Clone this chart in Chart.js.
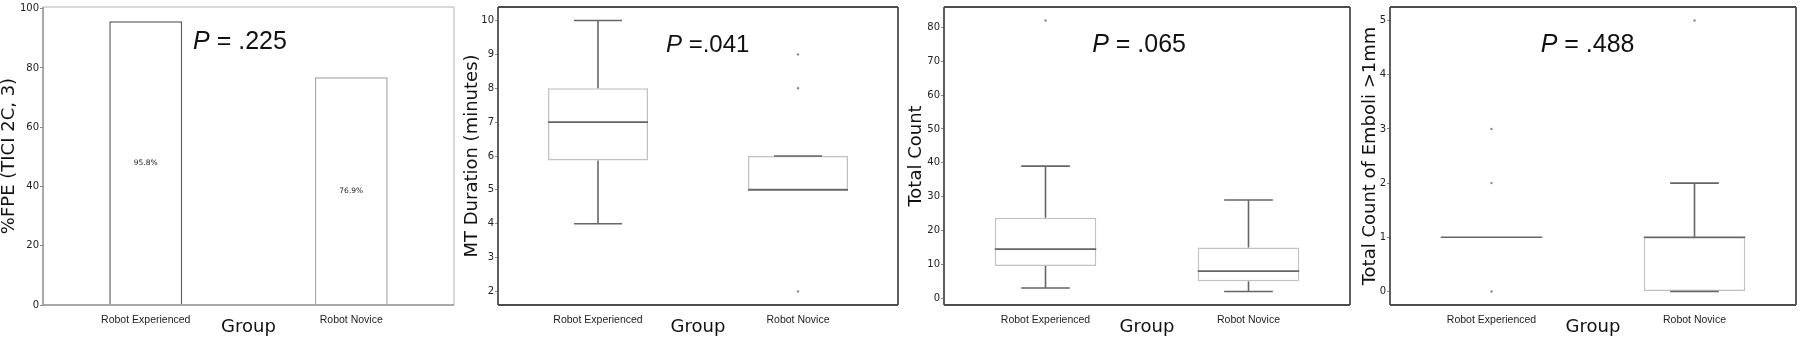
<!DOCTYPE html>
<html>
<head>
<meta charset="utf-8">
<title>Robot Experienced vs Robot Novice</title>
<script src="https://cdn.jsdelivr.net/npm/chart.js@4/dist/chart.umd.min.js"></script>
<style>
	body { margin: 0; background: #fff; }
	#wrap { position: relative; width: 1800px; height: 338px; }
	#wrap canvas { position: absolute; top: 0; }
</style>
</head>
<body>
<div id="wrap">
	<canvas id="chartFpe" width="456" height="338" style="left:0px"></canvas>
	<canvas id="chartMt" width="446" height="338" style="left:456px"></canvas>
	<canvas id="chartCount" width="450" height="338" style="left:904px"></canvas>
	<canvas id="chartEmboli" width="446" height="338" style="left:1354px"></canvas>
</div>
<script>
// data
const groups = ['Robot Experienced', 'Robot Novice'];

// panel 1 - first pass effect
const fpePercent = [95.8, 76.9];
const fpeTicks = [0, 20, 40, 60, 80, 100];

// panel 2 - MT duration (minutes)
const mtLow = [4, 5];
const mtQ1 = [5.87, 5];
const mtMedian = [7, 5];
const mtQ3 = [8, 6];
const mtHigh = [10, 6];
const mtOutliers = [[], [9, 8, 2]];
const mtTicks = [2, 3, 4, 5, 6, 7, 8, 9, 10];

// panel 3 - total count
const countLow = [3, 2];
const countQ1 = [9.5, 5];
const countMedian = [14.5, 8];
const countQ3 = [23.75, 15];
const countHigh = [39, 29];
const countOutliers = [[82], []];
const countTicks = [0, 10, 20, 30, 40, 50, 60, 70, 80];

// panel 4 - emboli > 1mm
const emboliLow = [1, 0];
const emboliQ1 = [1, 0];
const emboliMedian = [1, 1];
const emboliQ3 = [1, 1];
const emboliHigh = [1, 2];
const emboliOutliers = [[3, 2, 0], [5]];
const emboliTicks = [0, 1, 2, 3, 4, 5];

const pValues = [' = .225', ' =.041', ' = .065', ' = .488'];

(function() {
	'use strict';

	var colors = {
		text : '#222',
		tick : '#8a8a8a',
		box : '#c2c2c2',
		whisker : '#666',
		flier : '#8a8a8a',
		frame : '#4d4d4d',
		frameMid : '#8c8c8c',
		frameLight : '#cdcdcd',
		barDark : '#5a5a5a',
		barLight : '#a6a6a6'
	};

	var titleFont = "'DejaVu Sans', sans-serif";
	var labelFont = "'Liberation Sans', Arial, sans-serif";

	Chart.defaults.font.family = titleFont;
	Chart.defaults.color = colors.text;

	// frame round the plot area
	var framePlugin = {
		id : 'frame',
		afterDatasetsDraw : function(chart, args, opts) {
			var ctx = chart.ctx, a = chart.chartArea;
			function seg(x1, y1, x2, y2, c) {
				ctx.beginPath();
				ctx.strokeStyle = c;
				ctx.moveTo(x1, y1);
				ctx.lineTo(x2, y2);
				ctx.stroke();
			}
			ctx.save();
			ctx.lineWidth = opts.width || 1.5;
			seg(a.left, a.top, a.right, a.top, opts.top);
			seg(a.right, a.top, a.right, a.bottom, opts.right);
			seg(a.left, a.bottom, a.right, a.bottom, opts.bottom);
			seg(a.left, a.top, a.left, a.bottom, opts.left);
			ctx.restore();
		}
	};

	// "P = .xxx" note
	var pPlugin = {
		id : 'pnote',
		afterDraw : function(chart, args, opts) {
			var ctx = chart.ctx, a = chart.chartArea;
			var x = a.left + (a.right - a.left) * opts.fx;
			ctx.save();
			ctx.fillStyle = '#111';
			ctx.textBaseline = 'alphabetic';
			ctx.font = 'italic ' + opts.size + 'px ' + labelFont;
			ctx.fillText('P', x, opts.y);
			var w = ctx.measureText('P').width;
			ctx.font = opts.size + 'px ' + labelFont;
			ctx.fillText(opts.text, x + w, opts.y);
			ctx.restore();
		}
	};

	// whiskers, caps and medians
	var boxPlugin = {
		id : 'whiskers',
		afterDatasetsDraw : function(chart, args, opts) {
			if (!opts.low) return;
			var ctx = chart.ctx, y = chart.scales.y;
			var bars = chart.getDatasetMeta(0).data;
			ctx.save();
			ctx.strokeStyle = colors.whisker;
			ctx.lineWidth = 1.6;
			bars.forEach(function(bar, i) {
				var cx = bar.x, hw = bar.width / 2, cw = bar.width * 0.24;
				var pLow = y.getPixelForValue(opts.low[i]);
				var pQ1 = y.getPixelForValue(opts.q1[i]);
				var pQ3 = y.getPixelForValue(opts.q3[i]);
				var pHigh = y.getPixelForValue(opts.high[i]);
				var pMed = y.getPixelForValue(opts.median[i]);
				ctx.beginPath();
				ctx.moveTo(cx, pQ3); ctx.lineTo(cx, pHigh);
				ctx.moveTo(cx, pQ1); ctx.lineTo(cx, pLow);
				ctx.moveTo(cx - cw, pHigh); ctx.lineTo(cx + cw, pHigh);
				ctx.moveTo(cx - cw, pLow); ctx.lineTo(cx + cw, pLow);
				ctx.moveTo(cx - hw, pMed); ctx.lineTo(cx + hw, pMed);
				ctx.stroke();
			});
			ctx.restore();
		}
	};

	// value labels inside the bars
	var barLabelPlugin = {
		id : 'barLabels',
		afterDatasetsDraw : function(chart, args, opts) {
			if (!opts.show) return;
			var ctx = chart.ctx;
			var meta = chart.getDatasetMeta(0);
			var values = chart.data.datasets[0].data;
			ctx.save();
			ctx.font = '7.5px ' + titleFont;
			ctx.fillStyle = colors.text;
			ctx.textAlign = 'center';
			ctx.textBaseline = 'middle';
			meta.data.forEach(function(bar, i) {
				ctx.fillText(values[i].toFixed(1) + '%', bar.x, (bar.y + bar.base) / 2);
			});
			ctx.restore();
		}
	};

	function scalesFor(yTitle, ticks, yMin, yMax, yWidth, titlePad) {
		return {
			x : {
				afterFit : function(s) { s.height = 33; },
				grid : { display : false },
				border : { display : false },
				ticks : { padding : 1, color : colors.text, font : { size : 10.5, family : labelFont } },
				title : { display : true, text : 'Group', color : '#111', padding : 0,
						font : { size : 18, family : titleFont } }
			},
			y : {
				min : yMin,
				max : yMax,
				afterFit : function(s) { s.width = yWidth; },
				afterBuildTicks : function(s) { s.ticks = ticks.map(function(v) { return { value : v }; }); },
				grid : { drawOnChartArea : false, tickLength : 3, color : colors.tick, tickWidth : 1 },
				border : { display : false },
				ticks : { padding : 1, color : colors.text, font : { size : 10 } },
				title : { display : true, text : yTitle, color : '#111',
						padding : { top : titlePad, bottom : 0 },
						font : { size : 18, lineHeight : 1, family : titleFont } }
			}
		};
	}

	function dataRange(lists) {
		var all = [].concat.apply([], lists);
		var lo = Math.min.apply(null, all), hi = Math.max.apply(null, all);
		var pad = (hi - lo) * 0.05;
		return [lo - pad, hi + pad];
	}

	var commonPlugins = {
		legend : { display : false },
		tooltip : { enabled : false }
	};

	// Bar chart
	new Chart(document.getElementById('chartFpe'), {
		type : 'bar',
		data : {
			labels : groups,
			datasets : [ {
				data : fpePercent,
				backgroundColor : '#fff',
				borderColor : [ colors.barDark, colors.barLight ],
				borderWidth : 1.5,
				borderSkipped : 'bottom',
				categoryPercentage : 1,
				barPercentage : 0.355
			} ]
		},
		options : {
			responsive : false,
			animation : false,
			layout : { padding : { top : 3, right : 2, left : 0, bottom : 0 } },
			plugins : Object.assign({}, commonPlugins, {
				frame : { top : colors.frameLight, right : colors.frameLight, bottom : colors.frameMid, left : colors.frameMid },
				pnote : { text : pValues[0], size : 25, fx : 0.365, y : 48.5 },
				barLabels : { show : true }
			}),
			scales : scalesFor('%FPE (TICI 2C, 3)', fpeTicks, 0, Math.max.apply(null, fpePercent) * 1.05, 43, 0)
		},
		plugins : [ framePlugin, pPlugin, barLabelPlugin ]
	});

	// Box charts
	function boxChart(id, yTitle, low, q1, median, q3, high, outliers, ticks, yWidth, titlePad, padRight, note) {
		var points = [];
		outliers.forEach(function(list, i) {
			list.forEach(function(v) { points.push({ x : groups[i], y : v }); });
		});
		var range = dataRange([ low, high ].concat(outliers));
		return new Chart(document.getElementById(id), {
			type : 'bar',
			data : {
				labels : groups,
				datasets : [ {
					data : groups.map(function(g, i) { return [ q1[i], q3[i] ]; }),
					backgroundColor : '#fff',
					borderColor : colors.box,
					borderWidth : 1.5,
					borderSkipped : false,
					categoryPercentage : 1,
					barPercentage : 0.5
				}, {
					type : 'line',
					data : points,
					showLine : false,
					pointRadius : 1.2,
					pointBorderWidth : 0,
					pointBackgroundColor : colors.flier
				} ]
			},
			options : {
				responsive : false,
				animation : false,
				layout : { padding : { top : 1, right : padRight, left : 0, bottom : 0 } },
				plugins : Object.assign({}, commonPlugins, {
					frame : { top : colors.frame, right : colors.frame, bottom : colors.frame, left : colors.frame, width : 1.8 },
					pnote : note,
					whiskers : { low : low, q1 : q1, median : median, q3 : q3, high : high }
				}),
				scales : scalesFor(yTitle, ticks, range[0], range[1], yWidth, titlePad)
			},
			plugins : [ framePlugin, boxPlugin, pPlugin ]
		});
	}

	boxChart('chartMt', 'MT Duration (minutes)', mtLow, mtQ1, mtMedian, mtQ3, mtHigh, mtOutliers,
			mtTicks, 42, 7.5, 3, { text : pValues[1], size : 24, fx : 0.42, y : 52 });

	boxChart('chartCount', 'Total Count', countLow, countQ1, countMedian, countQ3, countHigh, countOutliers,
			countTicks, 40, 3.7, 1, { text : pValues[2], size : 25, fx : 0.365, y : 51.5 });

	boxChart('chartEmboli', 'Total Count of Emboli >1mm', emboliLow, emboliQ1, emboliMedian, emboliQ3, emboliHigh, emboliOutliers,
			emboliTicks, 36, 7.5, 1, { text : pValues[3], size : 25, fx : 0.371, y : 51.5 });
})();
</script>
</body>
</html>
